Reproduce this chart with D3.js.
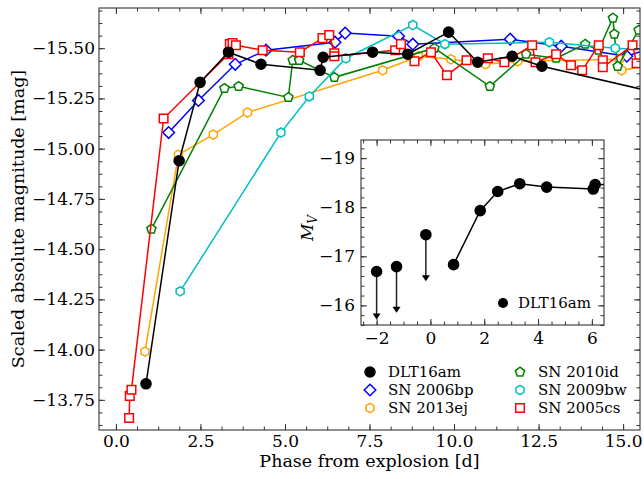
<!DOCTYPE html>
<html>
<head>
<meta charset="utf-8">
<script src="https://cdn.jsdelivr.net/npm/d3@7"></script>
<style>
  body { margin: 0; background: #fff; }
  text { font-family: "DejaVu Serif", serif; fill: #000; }
</style>
</head>
<body>
<svg id="chart" width="644" height="479"></svg>
<script>
// ---- data (phase [d], scaled abs. mag) ----
const dlt16am_t = [0.89, 1.87, 2.49, 3.33, 4.29, 6.04, 6.13, 7.59, 8.63, 9.84, 10.70, 11.72, 12.60, 17.5];
const dlt16am_m = [-13.83, -14.94, -15.33, -15.48, -15.42, -15.39, -15.455, -15.48, -15.47, -15.58, -15.43, -15.46, -15.41, -15.22];

const sn2006bp_t = [1.56, 2.44, 3.53, 4.44, 6.48, 6.78, 8.36, 8.78, 11.66, 13.17, 15.11, 16.0];
const sn2006bp_m = [-15.08, -15.24, -15.42, -15.49, -15.53, -15.575, -15.56, -15.52, -15.545, -15.51, -15.46, -15.51];

const sn2013ej_t = [0.86, 1.85, 2.88, 3.89, 7.89, 8.95, 9.91, 10.93, 11.88, 14.89, 14.96, 16.0];
const sn2013ej_m = [-13.99, -14.97, -15.07, -15.18, -15.39, -15.46, -15.445, -15.42, -15.435, -15.445, -15.39, -15.42];

const sn2010id_t = [1.05, 3.21, 3.63, 5.10, 5.23, 5.42, 6.46, 9.42, 11.06, 12.13, 13.02, 13.88, 14.27, 14.70, 14.74, 14.84, 15.46];
const sn2010id_m = [-14.60, -15.30, -15.31, -15.255, -15.44, -15.44, -15.355, -15.50, -15.31, -15.47, -15.45, -15.52, -15.49, -15.65, -15.57, -15.41, -15.59];

const sn2009bw_t = [1.90, 4.88, 5.72, 6.80, 8.78, 9.73, 12.82, 14.77, 15.9];
const sn2009bw_m = [-14.29, -15.08, -15.26, -15.45, -15.615, -15.52, -15.53, -15.50, -15.49];

const sn2005cs_t = [0.39, 0.41, 0.46, 1.41, 3.33, 3.37, 3.45, 3.55, 4.34, 5.44, 6.11, 6.31, 6.46, 6.46,
                    8.26, 8.43, 8.83, 9.32, 9.79, 10.37, 11.00, 11.49, 12.31, 12.41, 13.02, 13.46, 13.79,
                    14.28, 14.40, 14.40, 15.28, 15.40];
const sn2005cs_m = [-13.66, -13.77, -13.80, -15.15, -15.47, -15.52, -15.525, -15.515, -15.49, -15.48, -15.55, -15.565, -15.475, -15.46,
                    -15.49, -15.52, -15.435, -15.48, -15.365, -15.44, -15.45, -15.43, -15.515, -15.43, -15.47, -15.415, -15.39,
                    -15.515, -15.44, -15.405, -15.515, -15.425];

// inset: DLT16am in M_V, with upper limits
const inset_t = [0.86, 1.85, 2.50, 3.32, 4.32, 6.05, 6.12, 7.59];
const inset_m = [-16.83, -17.93, -18.32, -18.48, -18.41, -18.37, -18.46, -18.48];
const limit_t = [-2.0, -1.26, -0.17];
const limit_m = [-16.69, -16.79, -17.44];
const limit_len = [0.98, 0.94, 0.95];

const labels = ["DLT16am", "SN 2006bp", "SN 2013ej", "SN 2010id", "SN 2009bw", "SN 2005cs"];

const xTicks = [0, 2.5, 5, 7.5, 10, 12.5, 15];
const yTicks = [-15.5, -15.25, -15, -14.75, -14.5, -14.25, -14, -13.75];
const ixTicks = [-2, 0, 2, 4, 6];
const iyTicks = [-19, -18, -17, -16];

// ---- marker shapes ----
function poly(n, r, rot) {
    let pts = [];
    for (let i = 0; i < n; i++) {
        let a = -Math.PI / 2 + rot + 2 * Math.PI * i / n;
        pts.push([r * Math.cos(a), r * Math.sin(a)]);
    }
    return "M" + pts.map(p => p[0].toFixed(2) + "," + p[1].toFixed(2)).join("L") + "Z";
}
const shapes = {
    circle: d3.symbol(d3.symbolCircle, 80)(),
    diamond: poly(4, 5.8, 0),
    hexagon: poly(6, 4.6, 0),
    pentagon: poly(5, 4.8, 0),
    square: "M-4.3,-4.3H4.3V4.3H-4.3Z"
};

const series = [
    {name: labels[1], t: sn2006bp_t, m: sn2006bp_m, color: "#0000ff", shape: "diamond", fill: "#fff"},
    {name: labels[2], t: sn2013ej_t, m: sn2013ej_m, color: "#ffa500", shape: "hexagon", fill: "#fff"},
    {name: labels[3], t: sn2010id_t, m: sn2010id_m, color: "#008000", shape: "pentagon", fill: "#fff"},
    {name: labels[4], t: sn2009bw_t, m: sn2009bw_m, color: "#00bfbf", shape: "hexagon", fill: "#fff"},
    {name: labels[5], t: sn2005cs_t, m: sn2005cs_m, color: "#ff0000", shape: "square", fill: "#fff"},
    {name: labels[0], t: dlt16am_t, m: dlt16am_m, color: "#000", shape: "circle", fill: "#000"}
];

const svg = d3.select("#chart");
const frameColor = "#333";

// ---- main axes ----
const L = 99, R = 640, T = 8, B = 430;
let x = d3.scaleLinear().domain([-0.5, 15.5]).range([L, R]);
let y = d3.scaleLinear().domain([-15.7, -13.6]).range([T, B]);

function minorTicks(scale, step) {
    let d = scale.domain(), lo = Math.min(d[0], d[1]), hi = Math.max(d[0], d[1]);
    let out = [];
    for (let v = Math.ceil(lo / step) * step; v <= hi + 1e-9; v += step) out.push(+v.toFixed(6));
    return out;
}

function frame(g, xs, ys, xt, yt, xminor, yminor, xfmt, yfmt, pad) {
    let [l, r] = xs.range(), [t, b] = ys.range();
    let put = (axis, tx, ty) => {
        let a = g.append("g").attr("transform", "translate(" + tx + "," + ty + ")").call(axis);
        a.select(".domain").remove();
        a.selectAll("line").attr("stroke", frameColor).attr("stroke-width", 1);
        a.selectAll("text").style("font-size", "17px").attr("fill", "#000");
        return a;
    };
    put(d3.axisBottom(xs).tickValues(xt).tickSize(-6).tickPadding(pad).tickFormat(xfmt), 0, b);
    put(d3.axisBottom(xs).tickValues(xminor).tickSize(-3.5).tickFormat(""), 0, b);
    put(d3.axisTop(xs).tickValues(xt).tickSize(-6).tickFormat(""), 0, t);
    put(d3.axisTop(xs).tickValues(xminor).tickSize(-3.5).tickFormat(""), 0, t);
    put(d3.axisLeft(ys).tickValues(yt).tickSize(-6).tickPadding(pad - 1).tickFormat(yfmt), l, 0);
    put(d3.axisLeft(ys).tickValues(yminor).tickSize(-3.5).tickFormat(""), l, 0);
    put(d3.axisRight(ys).tickValues(yt).tickSize(-6).tickFormat(""), r, 0);
    put(d3.axisRight(ys).tickValues(yminor).tickSize(-3.5).tickFormat(""), r, 0);
    g.append("rect").attr("x", l).attr("y", t).attr("width", r - l).attr("height", b - t)
        .attr("fill", "none").attr("stroke", frameColor).attr("stroke-width", 1.1);
}

svg.append("defs").append("clipPath").attr("id", "clipMain")
    .append("rect").attr("x", L).attr("y", T).attr("width", R - L).attr("height", B - T);
svg.append("defs").append("clipPath").attr("id", "clipInset")
    .append("rect").attr("x", 361).attr("y", 140).attr("width", 243).attr("height", 185);

let plot = svg.append("g").attr("clip-path", "url(#clipMain)");
let line = d3.line().x(d => x(d[0])).y(d => y(d[1]));

series.forEach(s => {
    let pts = s.t.map((t, i) => [t, s.m[i]]);
    plot.append("path").datum(pts).attr("d", line)
        .attr("fill", "none").attr("stroke", s.color).attr("stroke-width", 1.5);
    plot.selectAll(null).data(pts).join("path")
        .attr("transform", d => "translate(" + x(d[0]) + "," + y(d[1]) + ")")
        .attr("d", shapes[s.shape])
        .attr("fill", s.fill).attr("stroke", s.color).attr("stroke-width", 1.5);
});

frame(svg.append("g"), x, y, xTicks, yTicks, minorTicks(x, 0.625), minorTicks(y, 0.0625),
    d3.format(".1f"), d3.format(".2f"), 5);

svg.append("text").attr("x", (L + R) / 2).attr("y", 467).attr("text-anchor", "middle")
    .style("font-size", "17.5px").text("Phase from explosion [d]");
svg.append("text").attr("transform", "translate(24," + ((T + B) / 2) + ") rotate(-90)")
    .attr("text-anchor", "middle").style("font-size", "17.5px").text("Scaled absolute magnitude [mag]");

// legend, two columns
let leg = svg.append("g");
labels.forEach((name, i) => {
    let s = series.find(d => d.name === name);
    let cx = i < 3 ? 370 : 520, cy = 372 + (i % 3) * 18;
    leg.append("path").attr("transform", "translate(" + cx + "," + cy + ")")
        .attr("d", shapes[s.shape]).attr("fill", s.fill).attr("stroke", s.color).attr("stroke-width", 1.5);
    leg.append("text").attr("x", cx + 18).attr("y", cy).attr("dy", "0.35em")
        .style("font-size", "15px").text(name);
});

// ---- inset ----
let ix = d3.scaleLinear().domain([-2.58, 6.45]).range([361, 604]);
let iy = d3.scaleLinear().domain([-19.37, -15.6]).range([140, 325]);
let inset = svg.append("g");
inset.append("rect").attr("x", 361).attr("y", 140).attr("width", 243).attr("height", 185).attr("fill", "#fff");
let ip = inset.append("g").attr("clip-path", "url(#clipInset)");

let ipts = inset_t.map((t, i) => [t, inset_m[i]]);
ip.append("path").datum(ipts)
    .attr("d", d3.line().x(d => ix(d[0])).y(d => iy(d[1])))
    .attr("fill", "none").attr("stroke", "#000").attr("stroke-width", 1.5);

limit_t.forEach((t, i) => {
    let x0 = ix(t), y0 = iy(limit_m[i]), y1 = iy(limit_m[i] + limit_len[i]);
    ip.append("line").attr("x1", x0).attr("x2", x0).attr("y1", y0).attr("y2", y1 - 2)
        .attr("stroke", "#222").attr("stroke-width", 1.5);
    ip.append("path").attr("d", "M" + (x0 - 4) + "," + (y1 - 6) + "L" + (x0 + 4) + "," + (y1 - 6) + "L" + x0 + "," + y1 + "Z")
        .attr("fill", "#000");
});
let allPts = ipts.concat(limit_t.map((t, i) => [t, limit_m[i]]));
ip.selectAll(null).data(allPts).join("path")
    .attr("transform", d => "translate(" + ix(d[0]) + "," + iy(d[1]) + ")")
    .attr("d", shapes.circle).attr("fill", "#000").attr("stroke", "#000").attr("stroke-width", 1.5);

frame(inset, ix, iy, ixTicks, iyTicks, minorTicks(ix, 0.5), minorTicks(iy, 0.2),
    d3.format("d"), d3.format("d"), 7);

let mv = inset.append("text").attr("transform", "translate(313,228) rotate(-90)")
    .attr("text-anchor", "middle").style("font-size", "17px").style("font-style", "italic");
mv.append("tspan").text("M");
mv.append("tspan").attr("dy", "0.3em").style("font-size", "12px").text("V");

inset.append("path").attr("transform", "translate(503,303)").attr("d", shapes.circle).attr("fill", "#000");
inset.append("text").attr("x", 518).attr("y", 303).attr("dy", "0.35em").style("font-size", "15px").text(labels[0]);
</script>
</body>
</html>
